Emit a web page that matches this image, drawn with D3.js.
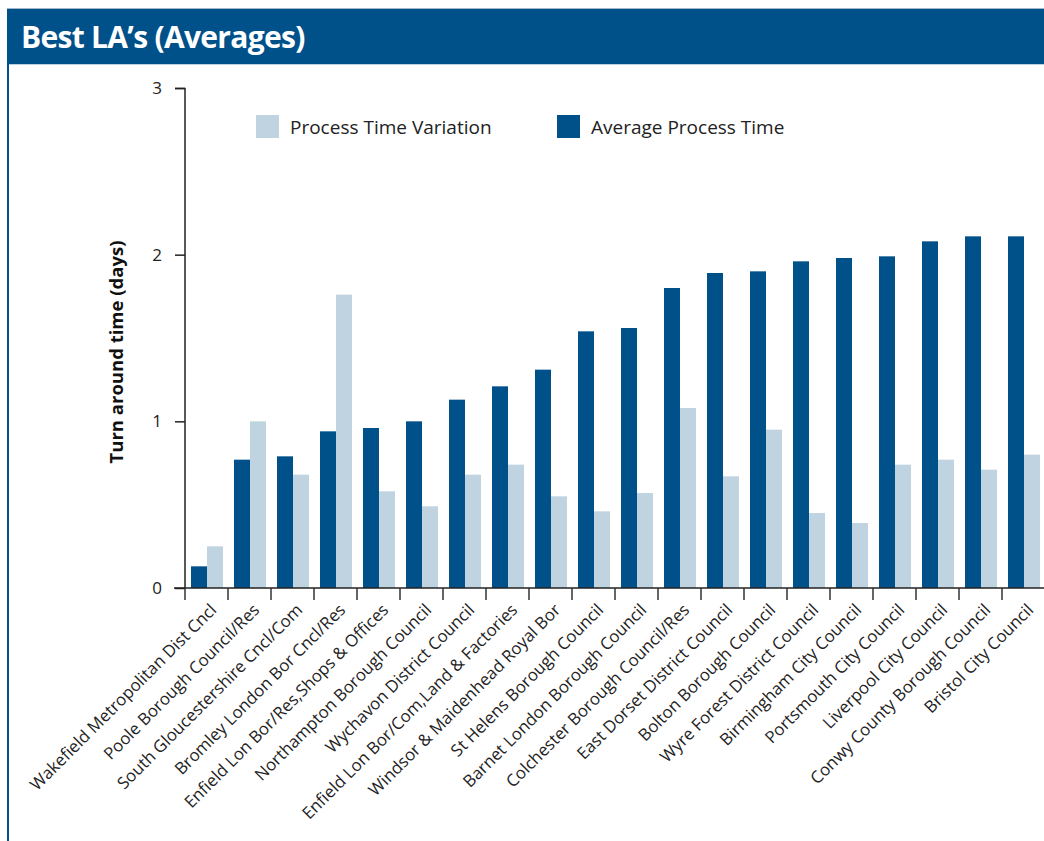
<!DOCTYPE html>
<html>
<head>
<meta charset="utf-8">
<script src="https://cdn.jsdelivr.net/npm/d3@7"></script>
<style>
  html, body { margin: 0; padding: 0; background: #fff; }
  svg { display: block; font-family: "Open Sans", sans-serif; }
</style>
</head>
<body>
<svg id="chart" width="1044" height="841"></svg>
<script>
const categories = [
  "Wakefield Metropolitan Dist Cncl",
  "Poole Borough Council/Res",
  "South Gloucestershire Cncl/Com",
  "Bromley London Bor Cncl/Res",
  "Enfield Lon Bor/Res,Shops & Offices",
  "Northampton Borough Council",
  "Wychavon District Council",
  "Enfield Lon Bor/Com,Land & Factories",
  "Windsor & Maidenhead Royal Bor",
  "St Helens Borough Council",
  "Barnet London Borough Council",
  "Colchester Borough Council/Res",
  "East Dorset District Council",
  "Bolton Borough Council",
  "Wyre Forest District Council",
  "Birmingham City Council",
  "Portsmouth City Council",
  "Liverpool City Council",
  "Conwy County Borough Council",
  "Bristol City Council"
];
const averageTime = [0.13, 0.77, 0.79, 0.94, 0.96, 1.00, 1.13, 1.21, 1.31, 1.54,
                     1.56, 1.80, 1.89, 1.90, 1.96, 1.98, 1.99, 2.08, 2.11, 2.11];
const variation   = [0.25, 1.00, 0.68, 1.76, 0.58, 0.49, 0.68, 0.74, 0.55, 0.46,
                     0.57, 1.08, 0.67, 0.95, 0.45, 0.39, 0.74, 0.77, 0.71, 0.80];
const yTicks = [0, 1, 2, 3];
const seriesNames = ["Process Time Variation", "Average Process Time"];

const dark = "#00508a";
const light = "#bfd3e0";

const svg = d3.select("#chart");

// header bar
svg.append("rect").attr("x", 7).attr("y", 8).attr("width", 1037).attr("height", 56).attr("fill", dark);
svg.append("line").attr("x1", 7).attr("x2", 1044).attr("y1", 8.5).attr("y2", 8.5).attr("stroke", "#9fb9cf");
svg.append("line").attr("x1", 7).attr("x2", 1044).attr("y1", 64.5).attr("y2", 64.5).attr("stroke", "#bcd0df");
svg.append("line").attr("x1", 8).attr("x2", 8).attr("y1", 64).attr("y2", 841).attr("stroke", dark).attr("stroke-width", 2);
svg.append("text")
  .attr("x", 21).attr("y", 48)
  .attr("fill", "#fff")
  .attr("font-size", 30)
  .attr("font-weight", "bold")
  .attr("letter-spacing", -0.7)
  .text("Best LA\u2019s (Averages)");

const x = d3.scaleBand().domain(categories).range([185, 1045]).padding(0);
const y = d3.scaleLinear().domain([0, 3]).range([588, 88]);
const bw = 16;
const off = 6;

const g = svg.append("g");

// bars
g.selectAll("rect.avg")
  .data(categories)
  .join("rect")
  .attr("class", "avg")
  .attr("x", d => x(d) + off)
  .attr("y", (d, i) => y(averageTime[i]))
  .attr("width", bw)
  .attr("height", (d, i) => y(0) - y(averageTime[i]))
  .attr("fill", dark);

g.selectAll("rect.var")
  .data(categories)
  .join("rect")
  .attr("class", "var")
  .attr("x", d => x(d) + off + bw)
  .attr("y", (d, i) => y(variation[i]))
  .attr("width", bw)
  .attr("height", (d, i) => y(0) - y(variation[i]))
  .attr("fill", light);

// y axis
const yAxis = g.append("g")
  .attr("transform", "translate(185,0)")
  .call(d3.axisLeft(y).tickValues(yTicks).tickSize(10).tickPadding(13).tickFormat(d3.format("d")));
yAxis.select(".domain").attr("stroke", "#222").attr("stroke-width", 1.5).attr("d", "M-10,88.5H0V588");
yAxis.selectAll(".tick line").attr("stroke", "#222").attr("stroke-width", 1.5);
yAxis.selectAll(".tick text").attr("font-size", 17).attr("fill", "#222").attr("font-family", "Open Sans, sans-serif");

// x axis
g.append("line")
  .attr("x1", 174).attr("x2", 1044)
  .attr("y1", y(0)).attr("y2", y(0))
  .attr("stroke", "#222").attr("stroke-width", 1.5);

g.selectAll("line.xtick")
  .data(categories)
  .join("line")
  .attr("class", "xtick")
  .attr("x1", d => x(d)).attr("x2", d => x(d))
  .attr("y1", y(0)).attr("y2", y(0) + 12)
  .attr("stroke", "#333").attr("stroke-width", 1.5);

g.selectAll("text.xlab")
  .data(categories)
  .join("text")
  .attr("class", "xlab")
  .attr("transform", d => `translate(${x(d) + x.bandwidth() / 2 + 11},${y(0) + 23}) rotate(-45)`)
  .attr("text-anchor", "end")
  .attr("font-size", 16.8)
  .attr("fill", "#222")
  .text(d => d);

// y axis title
svg.append("text")
  .attr("transform", `translate(123,${(y(0) + y(3)) / 2 + 14}) rotate(-90)`)
  .attr("text-anchor", "middle")
  .attr("font-size", 18.5)
  .attr("font-weight", "bold")
  .attr("fill", "#111")
  .text("Turn around time (days)");

// legend
const legend = svg.append("g");
const legendX = [256, 557];
const legendColors = [light, dark];
seriesNames.forEach((name, i) => {
  legend.append("rect")
    .attr("x", legendX[i]).attr("y", 115)
    .attr("width", 23).attr("height", 23)
    .attr("fill", legendColors[i]);
  legend.append("text")
    .attr("x", legendX[i] + 34).attr("y", 134)
    .attr("font-size", 19)
    .attr("fill", "#222")
    .text(name);
});
</script>
</body>
</html>
